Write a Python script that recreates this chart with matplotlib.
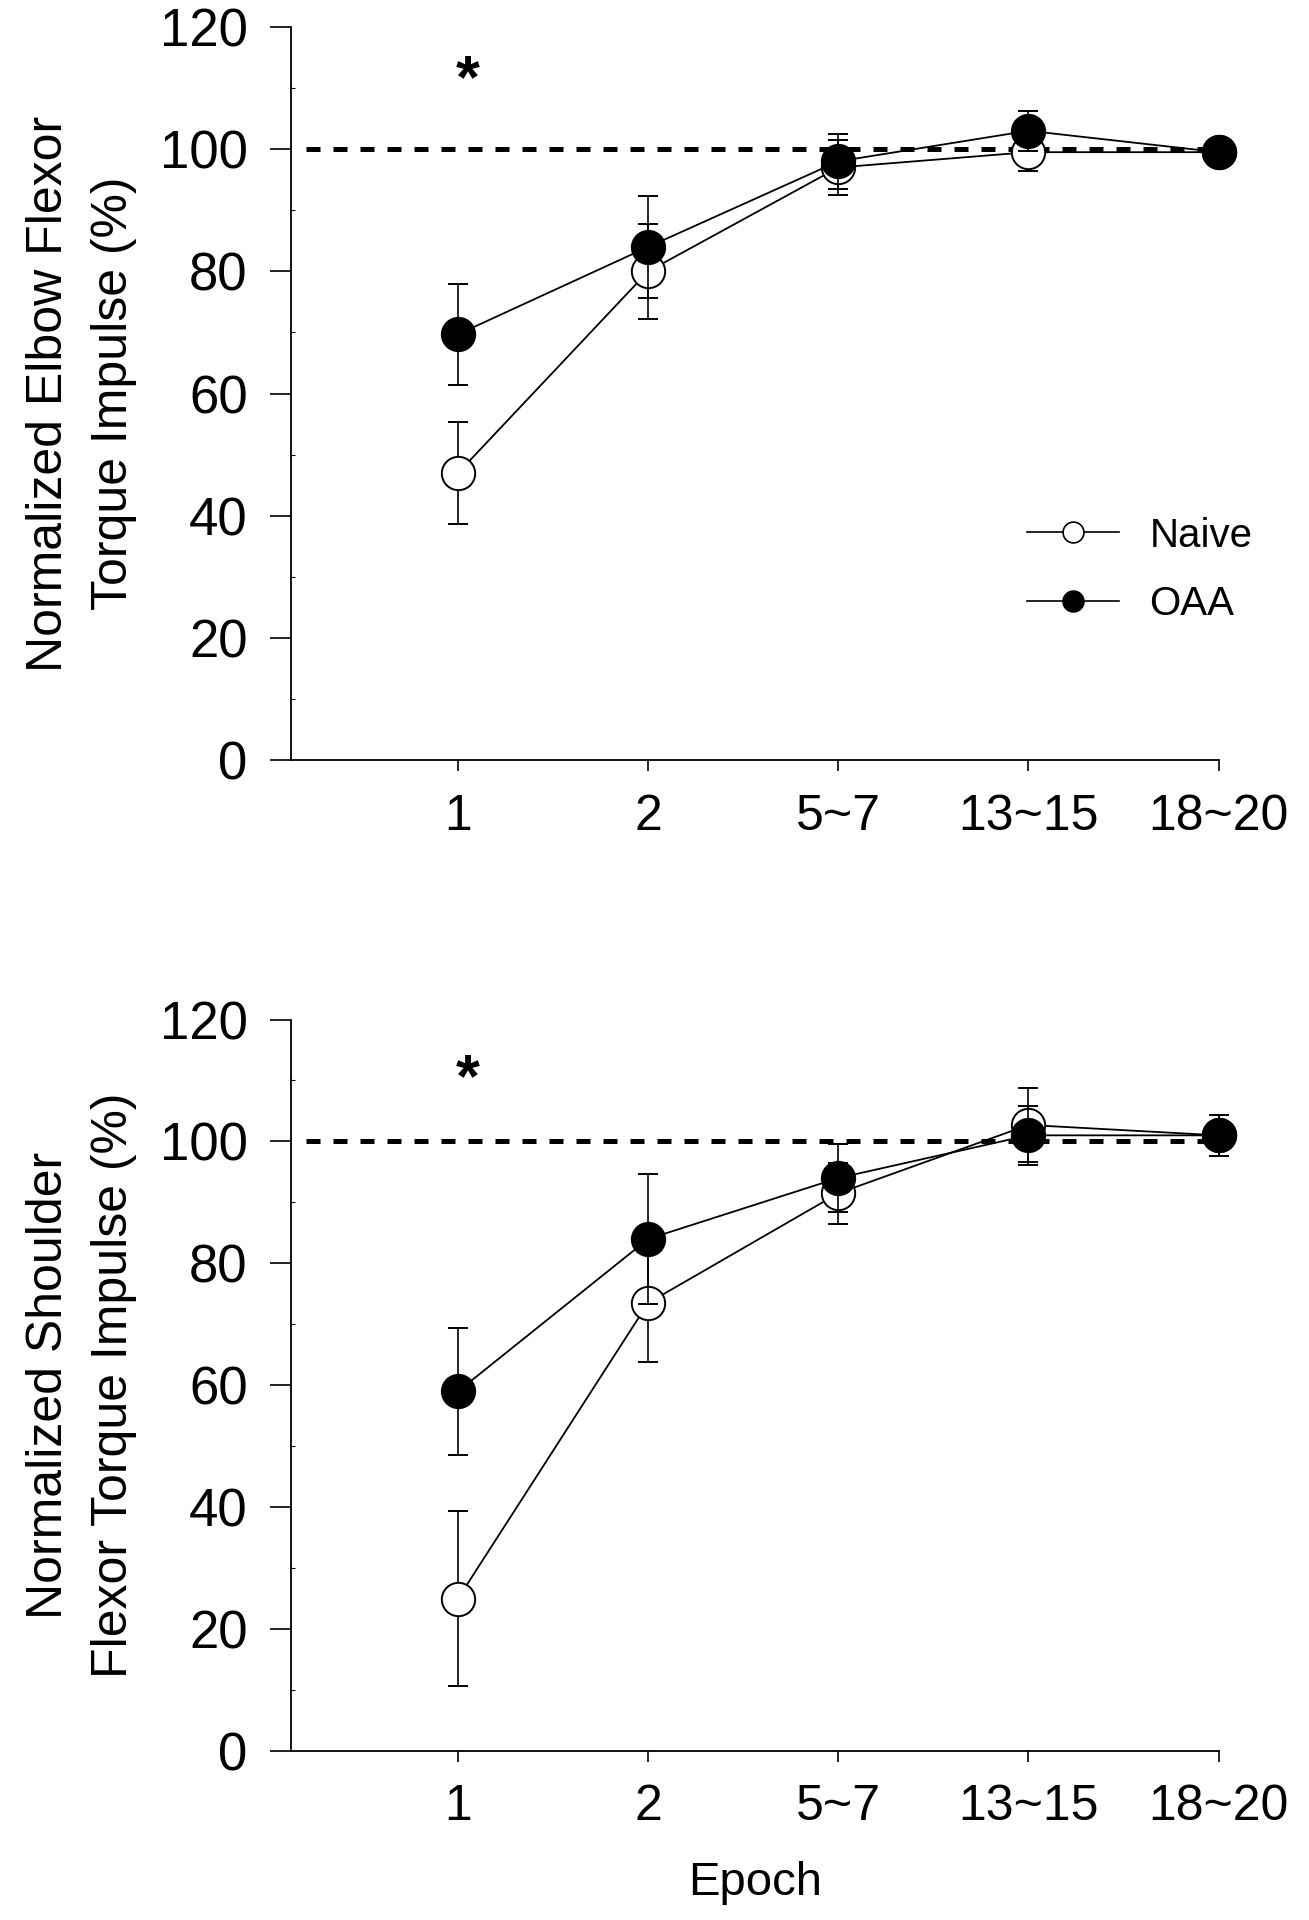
import matplotlib
matplotlib.use("Agg")
import matplotlib.pyplot as plt
from matplotlib.lines import Line2D
import numpy as np

plt.rcParams['font.family'] = ['Liberation Sans', 'DejaVu Sans']

epochs = ["1", "2", "5~7", "13~15", "18~20"]

elbow_naive = [47, 80, 97, 99.5, 99.5]
elbow_naive_err = [8.4, 7.8, 4.5, 3.0, 1.0]
elbow_oaa = [69.7, 84, 98, 103, 99.5]
elbow_oaa_err = [8.3, 8.3, 4.5, 3.3, 1.0]

shoulder_naive = [25, 73.5, 91.5, 102.7, 101]
shoulder_naive_err = [14.3, 9.6, 5.0, 6.0, 3.4]
shoulder_oaa = [59, 84, 94, 101, 101]
shoulder_oaa_err = [10.4, 10.6, 5.5, 4.8, 3.4]

ylabels = ["Normalized Elbow Flexor\nTorque Impulse (%)",
           "Normalized Shoulder\nFlexor Torque Impulse (%)"]
xlabel = "Epoch"
star_y = [111, 110]

fig = plt.figure(figsize=(13.09, 19.20), dpi=100)
ax1 = fig.add_axes([0.222, 0.604, 0.709, 0.382])
ax2 = fig.add_axes([0.222, 0.088, 0.709, 0.381])

x = np.arange(len(epochs))
panels = [
    (ax1, elbow_naive, elbow_naive_err, elbow_oaa, elbow_oaa_err),
    (ax2, shoulder_naive, shoulder_naive_err, shoulder_oaa, shoulder_oaa_err),
]

for i, (ax, n, ne, o, oe) in enumerate(panels):
    ax.plot([-0.8, 4.05], [100, 100], ls=(0, (2.8, 2.6)), color='black', lw=3.6, zorder=1,
            clip_on=False)
    ax.errorbar(x, n, yerr=ne, fmt='-o', color='black', mfc='white', mec='black',
                ms=24, mew=1.4, lw=1.3, elinewidth=1.2, capsize=7, capthick=1.3,
                zorder=3, clip_on=False)
    ax.errorbar(x, o, yerr=oe, fmt='-o', color='black', mfc='black', mec='black',
                ms=24, mew=1.4, lw=1.3, elinewidth=1.2, capsize=7, capthick=1.3,
                zorder=4, clip_on=False)
    ax.set_xlim(-0.88, 4.0)
    ax.set_ylim(0, 120)
    ax.set_yticks([0, 20, 40, 60, 80, 100, 120])
    ax.set_yticks(np.arange(10, 120, 20), minor=True)
    ax.set_xticks(x)
    ax.set_xticklabels(epochs)
    ax.spines['top'].set_visible(False)
    ax.spines['right'].set_visible(False)
    ax.spines['left'].set_linewidth(1.3)
    ax.spines['bottom'].set_linewidth(1.3)
    ax.tick_params(axis='y', which='major', direction='out', length=15, width=1.2,
                   labelsize=38, pad=16)
    ax.tick_params(axis='y', which='minor', direction='in', length=3, width=0.8)
    ax.tick_params(axis='x', which='major', direction='out', length=8, width=1.2,
                   labelsize=36, pad=16)
    ax.set_ylabel(ylabels[i], fontsize=36, labelpad=16, linespacing=1.55)
    ax.text(0.05, star_y[i], "*", fontsize=44, fontweight='bold', ha='center',
            va='center')

ax2.set_xlabel(xlabel, fontsize=34, labelpad=22)

handles = [
    Line2D([], [], color='black', lw=1.2, marker='o', ms=15, mfc='white', mec='black',
           mew=1.2),
    Line2D([], [], color='black', lw=1.2, marker='o', ms=15, mfc='black', mec='black',
           mew=1.2),
]
ax1.legend(handles, ["Naive", "OAA"], frameon=False, fontsize=29, loc='center left',
           bbox_to_anchor=(0.793, 0.26), handlelength=2.3, handletextpad=0.75,
           labelspacing=0.75, borderpad=0, borderaxespad=0)

fig.savefig("out.png", dpi=100)
